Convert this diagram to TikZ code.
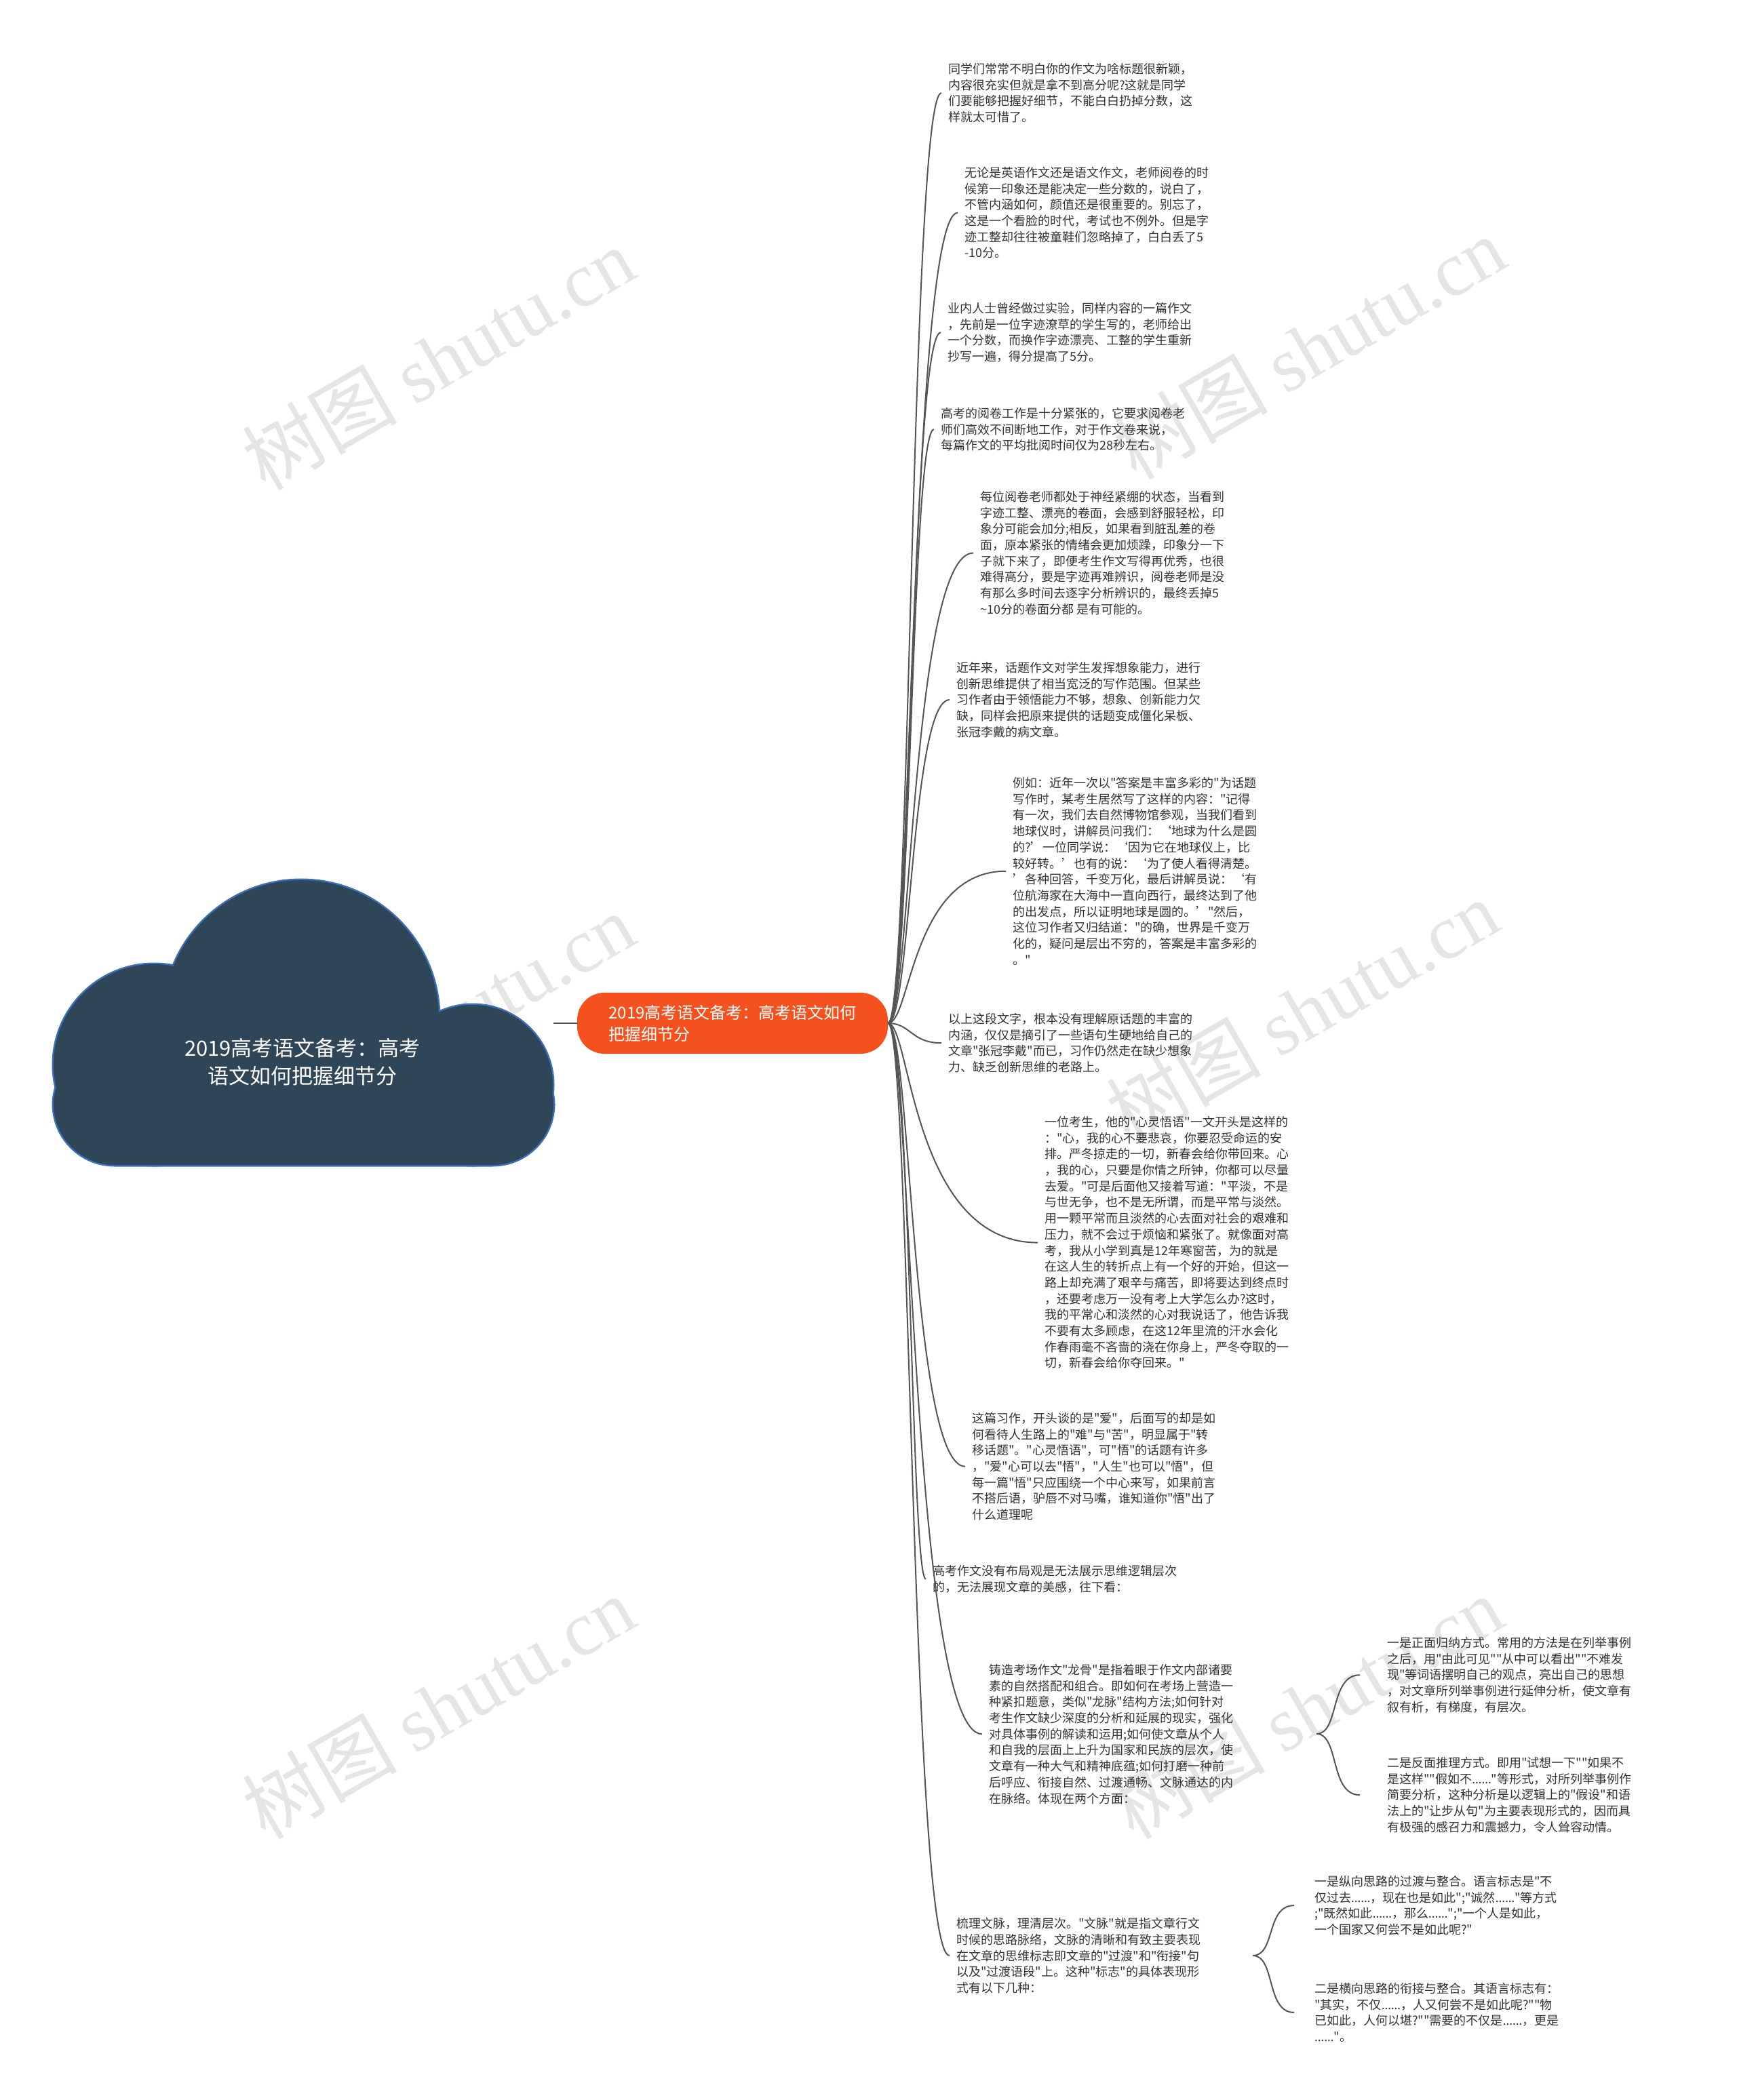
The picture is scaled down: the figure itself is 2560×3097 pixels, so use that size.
\documentclass[tikz,border=0pt]{standalone}
\usepackage{fontspec}
\newfontfamily\cjk{Noto Sans CJK SC}
\newfontfamily\dotsfont{Noto Sans}
\newfontfamily\wmfont{Liberation Serif}
\usetikzlibrary{calc}
\definecolor{cloudfill}{HTML}{2F4558}
\definecolor{cloudline}{HTML}{3B6FB6}
\definecolor{mainfill}{HTML}{F5511F}
\definecolor{linecol}{HTML}{555555}
\definecolor{leaftext}{HTML}{333333}
\newcommand{\el}{{\dotsfont …}}
\begin{document}
\begin{tikzpicture}[x=1pt,y=-1pt,
  leaf/.style={anchor=north west, inner sep=0pt, align=left, text=leaftext, font=\cjk\fontsize{18}{23.7}\selectfont},
  conn/.style={draw=linecol, line width=2pt},
  mainnode/.style={fill=mainfill, rounded corners=40pt, minimum width=458pt, minimum height=90pt, text=white, align=left, font=\cjk\fontsize{24}{32}\selectfont, inner sep=0pt},
  wm/.style={text=gray!45, opacity=0.45, font=\cjk\fontsize{114}{120}\selectfont, rotate=30}
]
\useasboundingbox (0,0) rectangle (2560,3097);
\fill[white] (0,0) rectangle (2560,3097);

% watermarks
\node[wm] (wm1) at (646,529) {树图 {\wmfont shutu.cn}};
\node[wm] (wm2) at (1930,513) {树图 {\wmfont shutu.cn}};
\node[wm] (wm3) at (646,1511) {树图 {\wmfont shutu.cn}};
\node[wm] (wm4) at (1920,1491) {树图 {\wmfont shutu.cn}};
\node[wm] (wm5) at (646,2518) {树图 {\wmfont shutu.cn}};
\node[wm] (wm6) at (1926,2518) {树图 {\wmfont shutu.cn}};

% cloud
\draw[cloudline, line width=5pt] (444,1501) circle[radius=203pt];
\draw[cloudline, line width=5pt] (227,1570) circle[radius=148pt];
\draw[cloudline, line width=5pt] (697,1600) circle[radius=118pt];
\draw[cloudline, line width=5pt, rounded corners=90pt] (79,1540) rectangle (816,1718);
\fill[cloudfill] (444,1501) circle[radius=203pt];
\fill[cloudfill] (227,1570) circle[radius=148pt];
\fill[cloudfill] (697,1600) circle[radius=118pt];
\fill[cloudfill, rounded corners=90pt] (79,1540) rectangle (816,1718);
\node[text=white, align=center, font=\cjk\fontsize{31}{41}\selectfont, inner sep=0pt] (root) at (446,1566) {2019高考语文备考：高考\\语文如何把握细节分};
\coordinate (rootE) at (816,1509);

% main node
\node[mainnode] (main) at (1080,1509) {2019高考语文备考：高考语文如何\\把握细节分};
\draw[conn] (rootE) -- (main.west);

% leaves
\node[leaf] (b1) at (1398,93) {同学们常常不明白你的作文为啥标题很新颖，\\内容很充实但就是拿不到高分呢?这就是同学\\们要能够把握好细节，不能白白扔掉分数，这\\样就太可惜了。};
\node[leaf] (b2) at (1422,246) {无论是英语作文还是语文作文，老师阅卷的时\\候第一印象还是能决定一些分数的，说白了，\\不管内涵如何，颜值还是很重要的。别忘了，\\这是一个看脸的时代，考试也不例外。但是字\\迹工整却往往被童鞋们忽略掉了，白白丢了5\\-10分。};
\node[leaf] (b3) at (1397,446) {业内人士曾经做过实验，同样内容的一篇作文\\，先前是一位字迹潦草的学生写的，老师给出\\一个分数，而换作字迹漂亮、工整的学生重新\\抄写一遍，得分提高了5分。};
\node[leaf] (b4) at (1387,601) {高考的阅卷工作是十分紧张的，它要求阅卷老\\师们高效不间断地工作，对于作文卷来说，\\每篇作文的平均批阅时间仅为28秒左右。};
\node[leaf] (b5) at (1445,724) {每位阅卷老师都处于神经紧绷的状态，当看到\\字迹工整、漂亮的卷面，会感到舒服轻松，印\\象分可能会加分;相反，如果看到脏乱差的卷\\面，原本紧张的情绪会更加烦躁，印象分一下\\子就下来了，即便考生作文写得再优秀，也很\\难得高分，要是字迹再难辨识，阅卷老师是没\\有那么多时间去逐字分析辨识的，最终丢掉5\\\textasciitilde10分的卷面分都 是有可能的。};
\node[leaf] (b6) at (1410,976) {近年来，话题作文对学生发挥想象能力，进行\\创新思维提供了相当宽泛的写作范围。但某些\\习作者由于领悟能力不够，想象、创新能力欠\\缺，同样会把原来提供的话题变成僵化呆板、\\张冠李戴的病文章。};
\node[leaf] (b7) at (1493,1146) {例如：近年一次以"答案是丰富多彩的"为话题\\写作时，某考生居然写了这样的内容："记得\\有一次，我们去自然博物馆参观，当我们看到\\地球仪时，讲解员问我们：‘地球为什么是圆\\的?’一位同学说：‘因为它在地球仪上，比\\较好转。’也有的说：‘为了使人看得清楚。\\’各种回答，千变万化，最后讲解员说：‘有\\位航海家在大海中一直向西行，最终达到了他\\的出发点，所以证明地球是圆的。’"然后，\\这位习作者又归结道："的确，世界是千变万\\化的，疑问是层出不穷的，答案是丰富多彩的\\。"};
\node[leaf] (b8) at (1398,1494) {以上这段文字，根本没有理解原话题的丰富的\\内涵，仅仅是摘引了一些语句生硬地给自己的\\文章"张冠李戴"而已，习作仍然走在缺少想象\\力、缺乏创新思维的老路上。};
\node[leaf] (b9) at (1540,1646) {一位考生，他的"心灵悟语"一文开头是这样的\\："心，我的心不要悲哀，你要忍受命运的安\\排。严冬掠走的一切，新春会给你带回来。心\\，我的心，只要是你情之所钟，你都可以尽量\\去爱。"可是后面他又接着写道："平淡，不是\\与世无争，也不是无所谓，而是平常与淡然。\\用一颗平常而且淡然的心去面对社会的艰难和\\压力，就不会过于烦恼和紧张了。就像面对高\\考，我从小学到真是12年寒窗苦，为的就是\\在这人生的转折点上有一个好的开始，但这一\\路上却充满了艰辛与痛苦，即将要达到终点时\\，还要考虑万一没有考上大学怎么办?这时，\\我的平常心和淡然的心对我说话了，他告诉我\\不要有太多顾虑，在这12年里流的汗水会化\\作春雨毫不吝啬的浇在你身上，严冬夺取的一\\切，新春会给你夺回来。"};
\node[leaf] (b10) at (1433,2083) {这篇习作，开头谈的是"爱"，后面写的却是如\\何看待人生路上的"难"与"苦"，明显属于"转\\移话题"。"心灵悟语"，可"悟"的话题有许多\\，"爱"心可以去"悟"，"人生"也可以"悟"，但\\每一篇"悟"只应围绕一个中心来写，如果前言\\不搭后语，驴唇不对马嘴，谁知道你"悟"出了\\什么道理呢};
\node[leaf] (b11) at (1375,2308) {高考作文没有布局观是无法展示思维逻辑层次\\的，无法展现文章的美感，往下看：};
\node[leaf] (b12) at (1458,2454) {铸造考场作文"龙骨"是指着眼于作文内部诸要\\素的自然搭配和组合。即如何在考场上营造一\\种紧扣题意，类似"龙脉"结构方法;如何针对\\考生作文缺少深度的分析和延展的现实，强化\\对具体事例的解读和运用;如何使文章从个人\\和自我的层面上上升为国家和民族的层次，使\\文章有一种大气和精神底蕴;如何打磨一种前\\后呼应、衔接自然、过渡通畅、文脉通达的内\\在脉络。体现在两个方面：};
\node[leaf] (b12a) at (2045,2414) {一是正面归纳方式。常用的方法是在列举事例\\之后，用"由此可见""从中可以看出""不难发\\现"等词语摆明自己的观点，亮出自己的思想\\，对文章所列举事例进行延伸分析，使文章有\\叙有析，有梯度，有层次。};
\node[leaf] (b12b) at (2045,2591) {二是反面推理方式。即用"试想一下""如果不\\是这样""假如不\el\el"等形式，对所列举事例作\\简要分析，这种分析是以逻辑上的"假设"和语\\法上的"让步从句"为主要表现形式的，因而具\\有极强的感召力和震撼力，令人耸容动情。};
\node[leaf] (b13) at (1410,2828) {梳理文脉，理清层次。"文脉"就是指文章行文\\时候的思路脉络，文脉的清晰和有致主要表现\\在文章的思维标志即文章的"过渡"和"衔接"句\\以及"过渡语段"上。这种"标志"的具体表现形\\式有以下几种：};
\node[leaf] (b13a) at (1938,2766) {一是纵向思路的过渡与整合。语言标志是"不\\仅过去\el\el，现在也是如此";"诚然\el\el"等方式\\;"既然如此\el\el，那么\el\el";"一个人是如此，\\一个国家又何尝不是如此呢?"};
\node[leaf] (b13b) at (1938,2924) {二是横向思路的衔接与整合。其语言标志有：\\"其实，不仅\el\el，人又何尝不是如此呢?""物\\已如此，人何以堪?""需要的不仅是\el\el，更是\\\el\el"。};

% fan connectors
\foreach \n in {b1,b2,b3,b4,b5,b6,b7,b8,b9,b10,b11,b12,b13}{
  \draw[conn] (main.east) .. controls (1343,1509) and (1343,0 |- \n.west) .. ($(\n.west)+(-10,0)$);
}
% sub connectors
\coordinate (b12o) at (1941,2557);
\coordinate (b13o) at (1847,2884);
\foreach \n in {b12a,b12b}{
  \draw[conn] (b12o) .. controls (1975,2557) and (1960,0 |- \n.west) .. ($(\n.west)+(-40,0)$);
}
\foreach \n in {b13a,b13b}{
  \draw[conn] (b13o) .. controls (1881,2884) and (1866,0 |- \n.west) .. ($(\n.west)+(-30,0)$);
}
\end{tikzpicture}
\end{document}
